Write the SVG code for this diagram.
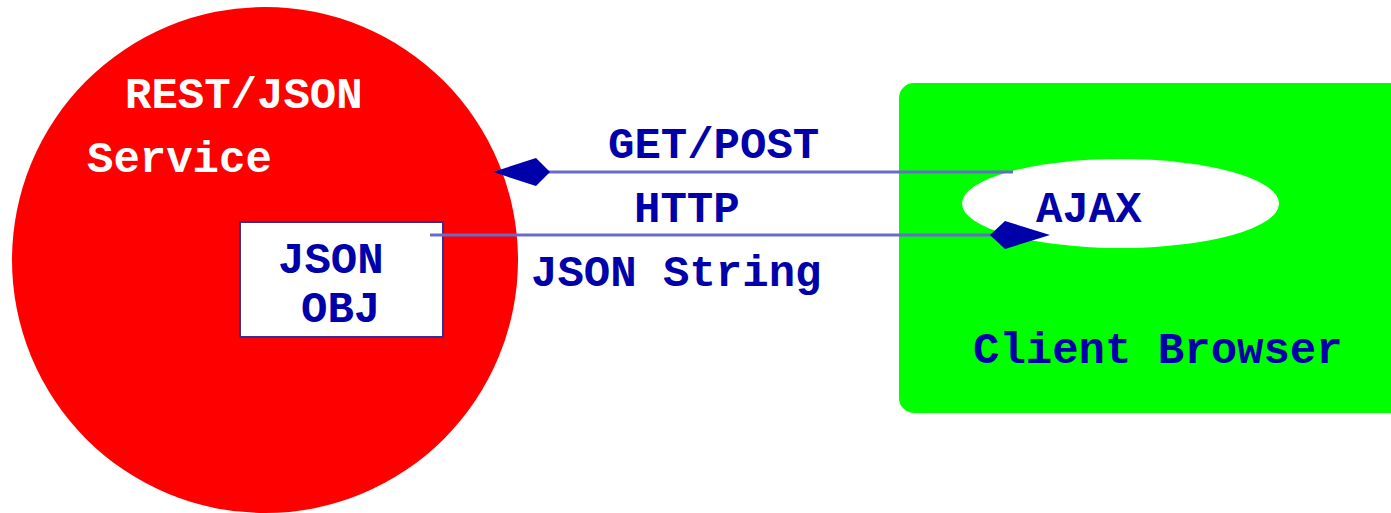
<svg xmlns="http://www.w3.org/2000/svg" width="1391" height="513" viewBox="0 0 1391 513">
<style>
.t{font-family:"Liberation Mono","Courier New",monospace;font-weight:bold;font-size:44px;fill:#0000aa}
.w{fill:#ffffff}
.conn{stroke:#6a6acc;stroke-width:3;fill:none}
.dia{fill:#0000aa}
</style>
<rect width="1391" height="513" fill="#ffffff"/>
<g id="service">
<circle cx="265" cy="260" r="253" fill="#ff0000"/>
<text class="t w" x="125" y="108">REST/JSON</text>
<text class="t w" x="87" y="172">Service</text>
</g>
<g id="jsonobj">
<rect x="240" y="222" width="203" height="115" fill="#ffffff" stroke="#3030a0" stroke-width="2"/>
<text class="t" x="278" y="273">JSON</text>
<text class="t" x="301" y="322">OBJ</text>
</g>
<g id="browser">
<rect x="899" y="83" width="520" height="330" rx="15" fill="#00ff00"/>
<text class="t" x="973" y="363">Client Browser</text>
</g>
<g id="ajax">
<ellipse cx="1120.5" cy="203.5" rx="158.5" ry="44.5" fill="#ffffff"/>
<text class="t" x="1036" y="222">AJAX</text>
</g>
<g id="connectors">
<line class="conn" x1="545" y1="172" x2="1013" y2="172"/>
<polygon class="dia" points="493,172 536,158 550,172 536,186"/>
<text class="t" x="608" y="158">GET/POST</text>
<line class="conn" x1="430" y1="235" x2="995" y2="235"/>
<polygon class="dia" points="990,235 1005,221 1050,235 1005,249"/>
<text class="t" x="634" y="222">HTTP</text>
<text class="t" x="531" y="286">JSON String</text>
</g>
</svg>
